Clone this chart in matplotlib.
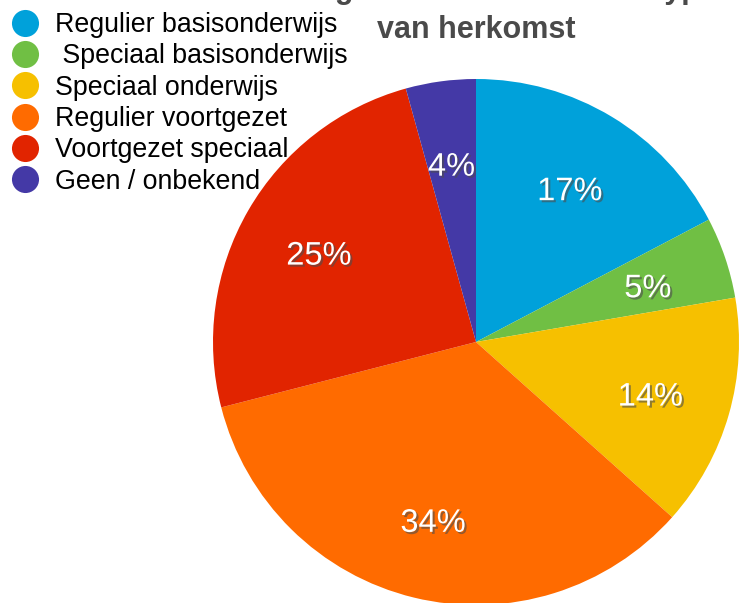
import matplotlib
matplotlib.use("Agg")
import matplotlib.pyplot as plt
import matplotlib.patheffects as pe
import matplotlib.transforms as mtransforms
from matplotlib.lines import Line2D

plt.rcParams['font.family'] = ['Liberation Sans', 'DejaVu Sans']

categories = ['Regulier basisonderwijs', ' Speciaal basisonderwijs', 'Speciaal onderwijs',
              'Regulier voortgezet', 'Voortgezet speciaal', 'Geen / onbekend']
shares = [17.3, 5.0, 14.3, 34.4, 24.7, 4.3]
colors = ['#00A1DA', '#70BF44', '#F6C000', '#FF6B00', '#E12400', '#4439A6']
title_1 = 'Leerlingen naar soort schooltype'
title_2 = 'van herkomst'

W, H = 748, 603
fig = plt.figure(figsize=(W / 100, H / 100), dpi=100)

# pie centre (476, 342) px, radius 263 px
cx, cy, r = 476, 342, 263
ax = fig.add_axes([(cx - r) / W, (H - cy - r) / H, 2 * r / W, 2 * r / H])
wedges, texts, autotexts = ax.pie(
    shares, colors=colors, startangle=90, counterclock=False, radius=1,
    autopct=lambda p: '%d%%' % round(p), pctdistance=0.69,
    wedgeprops=dict(linewidth=0),
    textprops=dict(color='white', fontsize=23.5))
for t in autotexts:
    t.set_transform(mtransforms.offset_copy(t.get_transform(), fig=fig, x=0, y=-5, units='dots'))
    t.set_path_effects([pe.SimplePatchShadow(offset=(1.5, -1.5), alpha=0.6), pe.Normal()])
ax.set_xlim(-1, 1)
ax.set_ylim(-1, 1)
ax.set_aspect('equal')
ax.axis('off')

# title (first line is cut off by the top edge, as in the source)
fig.text(cx / W, 1 + 2 / H, title_1, ha='center', va='baseline', fontsize=22,
         fontweight='bold', color='#4a4a4a')
fig.text(cx / W, 1 - 38 / H, title_2, ha='center', va='baseline', fontsize=22,
         fontweight='bold', color='#4a4a4a')

handles = [Line2D([], [], marker='o', linestyle='none', markersize=19.5,
                  markerfacecolor=c, markeredgewidth=0) for c in colors]
fig.legend(handles, categories, loc='upper left', bbox_to_anchor=(12 / W, 1 - 12 / H),
           frameon=False, fontsize=19.3, borderpad=0, handlelength=1.0,
           handletextpad=0.62, labelspacing=0.2, borderaxespad=0)

fig.savefig('out.png', dpi=100)
